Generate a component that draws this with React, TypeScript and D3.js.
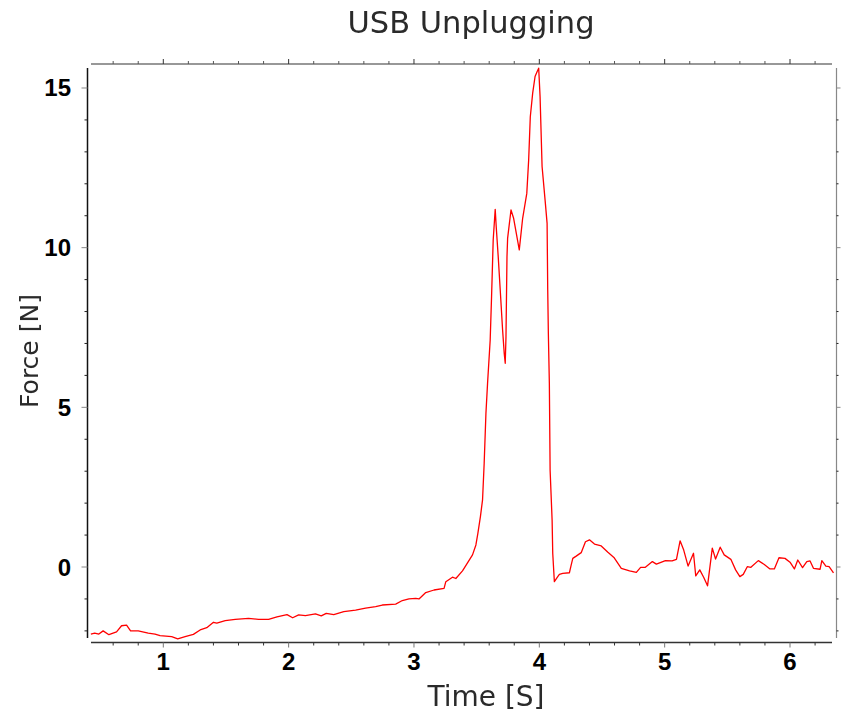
import React from "react";
import * as d3 from "d3";

const timeS = [0.422,0.453,0.486,0.52,0.566,0.627,0.667,0.707,0.739,0.80,0.88,0.934,0.974,1.067,1.115,1.174,1.24,1.294,1.347,1.40,1.427,1.494,1.574,1.68,1.76,1.84,1.907,1.987,2.032,2.08,2.134,2.214,2.26,2.30,2.36,2.44,2.534,2.614,2.694,2.747,2.854,2.907,2.96,3.014,3.04,3.094,3.16,3.24,3.254,3.307,3.334,3.387,3.427,3.467,3.494,3.51,3.53,3.547,3.56,3.574,3.587,3.608,3.619,3.632,3.648,3.656,3.672,3.688,3.707,3.72,3.728,3.734,3.742,3.747,3.774,3.795,3.84,3.867,3.90,3.915,3.928,3.947,3.966,3.982,3.995,4.006,4.022,4.046,4.062,4.067,4.072,4.08,4.086,4.102,4.107,4.12,4.147,4.16,4.187,4.24,4.254,4.267,4.294,4.334,4.368,4.40,4.44,4.494,4.547,4.595,4.654,4.72,4.774,4.808,4.846,4.902,4.934,5.006,5.059,5.094,5.123,5.152,5.187,5.23,5.248,5.28,5.312,5.342,5.38,5.406,5.443,5.475,5.528,5.566,5.60,5.627,5.659,5.688,5.747,5.795,5.84,5.875,5.912,5.96,6.0,6.035,6.062,6.10,6.134,6.16,6.187,6.24,6.254,6.286,6.312,6.347];
const forceN = [-2.10,-2.07,-2.10,-2.00,-2.12,-2.03,-1.84,-1.82,-2.00,-2.00,-2.07,-2.10,-2.15,-2.18,-2.25,-2.18,-2.11,-1.97,-1.90,-1.73,-1.76,-1.68,-1.64,-1.61,-1.64,-1.64,-1.56,-1.49,-1.59,-1.50,-1.52,-1.47,-1.53,-1.45,-1.49,-1.40,-1.35,-1.29,-1.24,-1.19,-1.16,-1.05,-1.00,-0.98,-1.00,-0.80,-0.72,-0.67,-0.46,-0.32,-0.36,-0.12,0.13,0.38,0.69,1.06,1.58,2.10,3.25,4.81,5.75,7.11,8.47,10.24,11.20,10.66,9.72,8.68,7.42,6.69,6.38,7.21,9.72,10.29,11.18,10.92,9.93,10.92,11.70,12.75,14.10,14.84,15.36,15.51,15.62,14.73,12.54,11.49,10.76,8.68,7.32,5.75,3.04,1.47,0.43,-0.46,-0.30,-0.23,-0.20,-0.18,0.06,0.27,0.34,0.45,0.79,0.85,0.72,0.66,0.46,0.30,-0.04,-0.12,-0.17,-0.01,-0.01,0.17,0.09,0.20,0.19,0.24,0.82,0.53,0.03,0.43,-0.28,-0.09,-0.33,-0.59,0.59,0.25,0.62,0.38,0.24,-0.09,-0.30,-0.23,0.01,-0.01,0.20,0.08,-0.06,-0.06,0.29,0.27,0.15,-0.06,0.22,-0.02,0.17,0.19,-0.04,-0.07,0.20,0.03,0.01,-0.18];

const xMajorTicks = [1, 2, 3, 4, 5, 6];
const yMajorTicks = [0, 5, 10, 15];
const titleText = "USB Unplugging";
const xLabel = "Time [S]";
const yLabel = "Force [N]";

export default function App() {
  const W = 861, H = 728;
  const x = d3.scaleLinear().domain([0.4232, 6.335]).range([91, 832]);
  const y = d3.scaleLinear().domain([-2.223, 15.626]).range([638, 68]);
  const pts = timeS.map((t, i) => [t, forceN[i]] as [number, number]);
  const line = d3.line<[number, number]>().x(d => x(d[0])).y(d => y(d[1]));

  const xMinor = d3.range(0.6, 6.34, 0.2).filter(v => Math.abs(v - Math.round(v)) > 0.01);
  const yMinor = d3.range(-2, 15.5, 1).filter(v => v % 5 !== 0);

  const leftX = 87.5, rightX = 836.5, topY = 64, botY = 642.5;
  const tickLabel = { fontFamily: "Liberation Sans, Arial, sans-serif", fontWeight: 700, fontSize: 24, fill: "#000" } as const;
  const labelFont = { fontFamily: "DejaVu Sans, sans-serif", fill: "#2b2b2b" } as const;

  return (
    <svg width={W} height={H} style={{ position: "absolute", left: 0, top: 0 }}>
      <defs>
        <filter id="soft" x="-5%" y="-20%" width="110%" height="140%">
          <feGaussianBlur stdDeviation="0.6" />
        </filter>
      </defs>
      <rect width={W} height={H} fill="#fff" />
      <line x1={91} x2={832} y1={topY} y2={topY} stroke="#333" strokeWidth={1.2} />
      <line x1={91} x2={832} y1={botY} y2={botY} stroke="#333" strokeWidth={1.4} />
      <line x1={leftX} x2={leftX} y1={68} y2={638} stroke="#111" strokeWidth={1.5} />
      <line x1={rightX} x2={rightX} y1={68} y2={638} stroke="#888" strokeWidth={1.2} />

      {xMajorTicks.map(v => (
        <g key={"xm" + v}>
          <line x1={x(v)} x2={x(v)} y1={botY} y2={botY + 5} stroke="#777" strokeWidth={1} />
          <line x1={x(v)} x2={x(v)} y1={topY} y2={topY - 5} stroke="#333" strokeWidth={1} />
          <text x={x(v)} y={670} textAnchor="middle" style={tickLabel}>{v}</text>
        </g>
      ))}
      {xMinor.map(v => (
        <g key={"xn" + v.toFixed(1)}>
          <line x1={x(v)} x2={x(v)} y1={botY} y2={botY + 3} stroke="#333" strokeWidth={1} />
          <line x1={x(v)} x2={x(v)} y1={topY} y2={topY - 3} stroke="#555" strokeWidth={1} />
        </g>
      ))}

      {yMajorTicks.map(v => (
        <g key={"ym" + v}>
          <line x1={leftX} x2={leftX - 6} y1={y(v)} y2={y(v)} stroke="#888" strokeWidth={1} />
          <line x1={rightX} x2={rightX + 4} y1={y(v)} y2={y(v)} stroke="#888" strokeWidth={1} />
          <text x={71} y={y(v) + 8.5} textAnchor="end" style={tickLabel}>{v}</text>
        </g>
      ))}
      {yMinor.map(v => (
        <g key={"yn" + v}>
          <line x1={leftX} x2={leftX - 3} y1={y(v)} y2={y(v)} stroke="#222" strokeWidth={1} />
          <line x1={rightX} x2={rightX + 2} y1={y(v)} y2={y(v)} stroke="#222" strokeWidth={1} />
        </g>
      ))}

      <path d={line(pts) || ""} fill="none" stroke="#ff0000" strokeWidth={1.3} strokeLinejoin="round" />

      <text x={471} y={33} textAnchor="middle" style={{ ...labelFont, fontSize: 30.5 }} filter="url(#soft)">{titleText}</text>
      <text x={486} y={706} textAnchor="middle" style={{ ...labelFont, fontSize: 28 }} filter="url(#soft)">{xLabel}</text>
      <text transform="translate(38,351) rotate(-90)" textAnchor="middle" style={{ ...labelFont, fontSize: 25 }} filter="url(#soft)">{yLabel}</text>
    </svg>
  );
}
